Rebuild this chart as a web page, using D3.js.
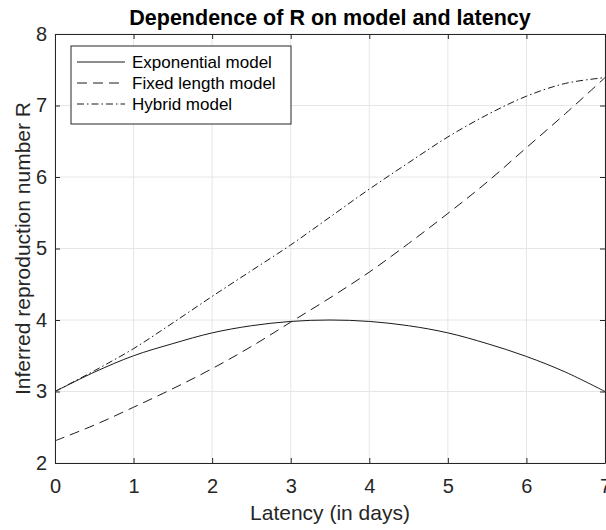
<!DOCTYPE html>
<html>
<head>
<meta charset="utf-8">
<title>Dependence of R on model and latency</title>
<script src="https://cdn.jsdelivr.net/npm/d3@7"></script>
<style>
  body { margin: 0; background: #fff; }
  svg { display: block; font-family: "Liberation Sans", Arial, Helvetica, sans-serif; }
  .grid line { stroke: #e6e6e6; stroke-width: 1; }
  .series { fill: none; stroke: #1a1a1a; stroke-width: 1; }
</style>
</head>
<body>
<script>
// values
var latency     = [0, 0.5, 1, 1.5, 2, 2.5, 3, 3.5, 4, 4.5, 5, 5.5, 6, 6.5, 7];
var exponential = [3.00, 3.27, 3.50, 3.67, 3.82, 3.92, 3.98, 4.00, 3.98, 3.92, 3.82, 3.67, 3.49, 3.27, 3.00];
var fixedLength = [2.31, 2.53, 2.78, 3.04, 3.32, 3.63, 3.97, 4.31, 4.67, 5.07, 5.49, 5.93, 6.41, 6.89, 7.39];
var hybrid      = [3.00, 3.29, 3.60, 3.96, 4.33, 4.69, 5.05, 5.44, 5.83, 6.20, 6.56, 6.87, 7.13, 7.31, 7.39];
var xTicks = [0, 1, 2, 3, 4, 5, 6, 7];
var yTicks = [2, 3, 4, 5, 6, 7, 8];
var seriesNames = ["Exponential model", "Fixed length model", "Hybrid model"];

var W = 606, H = 530;
var margin = {top: 34, right: 1, bottom: 67, left: 55};
var width = W - margin.left - margin.right,
    height = H - margin.top - margin.bottom;

var svg = d3.select("body").append("svg")
    .attr("width", W)
    .attr("height", H);

var g = svg.append("g")
    .attr("transform", "translate(" + margin.left + "," + margin.top + ")");

var x = d3.scaleLinear().domain([0, 7]).range([0, width]);
var y = d3.scaleLinear().domain([2, 8]).range([height, 0]);

// grid
g.append("g").attr("class", "grid")
  .selectAll("line").data(xTicks).enter().append("line")
  .attr("x1", d => x(d)).attr("x2", d => x(d))
  .attr("y1", 0).attr("y2", height);
g.append("g").attr("class", "grid")
  .selectAll("line").data(yTicks).enter().append("line")
  .attr("y1", d => y(d)).attr("y2", d => y(d))
  .attr("x1", 0).attr("x2", width);

// series
var dashes = [null, "10,6", "7,3,1.5,3"];
var allSeries = [exponential, fixedLength, hybrid];
var line = d3.line()
    .x((d, i) => x(latency[i]))
    .y(d => y(d))
    .curve(d3.curveCatmullRom);

allSeries.forEach(function(vals, k) {
  g.append("path")
    .datum(vals)
    .attr("class", "series")
    .attr("stroke-dasharray", dashes[k])
    .attr("d", line);
});

// axes (box with inward ticks)
var axisColor = "#262626";
var fmt = d3.format("d");
function styleAxis(sel, showText) {
  sel.select(".domain").attr("stroke", axisColor).attr("stroke-width", 1);
  sel.selectAll(".tick line").attr("stroke", axisColor);
  sel.selectAll(".tick text").attr("fill", "#262626").style("font-size", "20px");
  if (!showText) sel.selectAll(".tick text").remove();
}
var xb = g.append("g").attr("transform", "translate(0," + height + ")")
  .call(d3.axisBottom(x).tickValues(xTicks).tickFormat(fmt).tickSize(-5).tickSizeOuter(0).tickPadding(16));
styleAxis(xb, true);
var xt = g.append("g")
  .call(d3.axisTop(x).tickValues(xTicks).tickSize(-5).tickSizeOuter(0));
styleAxis(xt, false);
var yl = g.append("g")
  .call(d3.axisLeft(y).tickValues(yTicks).tickFormat(fmt).tickSize(-5).tickSizeOuter(0).tickPadding(8));
styleAxis(yl, true);
var yr = g.append("g").attr("transform", "translate(" + width + ",0)")
  .call(d3.axisRight(y).tickValues(yTicks).tickSize(-5).tickSizeOuter(0));
styleAxis(yr, false);

// title & labels
svg.append("text")
  .attr("x", margin.left + width / 2)
  .attr("y", 25)
  .attr("text-anchor", "middle")
  .style("font-size", "21.5px")
  .style("font-weight", "bold")
  .attr("fill", "#000")
  .text("Dependence of R on model and latency");

svg.append("text")
  .attr("x", margin.left + width / 2)
  .attr("y", 520)
  .attr("text-anchor", "middle")
  .style("font-size", "21px")
  .attr("fill", "#262626")
  .text("Latency (in days)");

svg.append("text")
  .attr("transform", "translate(30," + (margin.top + height / 2) + ") rotate(-90)")
  .attr("text-anchor", "middle")
  .style("font-size", "21px")
  .attr("fill", "#262626")
  .text("Inferred reproduction number R");

// legend
var lg = svg.append("g").attr("transform", "translate(71,46)");
lg.append("rect")
  .attr("width", 220).attr("height", 78)
  .attr("fill", "#fff")
  .attr("stroke", "#262626").attr("stroke-width", 1);
seriesNames.forEach(function(name, k) {
  var yy = 16 + k * 21;
  lg.append("line")
    .attr("x1", 6).attr("x2", 54)
    .attr("y1", yy).attr("y2", yy)
    .attr("class", "series")
    .attr("stroke-dasharray", dashes[k]);
  lg.append("text")
    .attr("x", 61).attr("y", yy)
    .attr("dy", "0.35em")
    .style("font-size", "17px")
    .attr("fill", "#000")
    .text(name);
});
</script>
</body>
</html>
